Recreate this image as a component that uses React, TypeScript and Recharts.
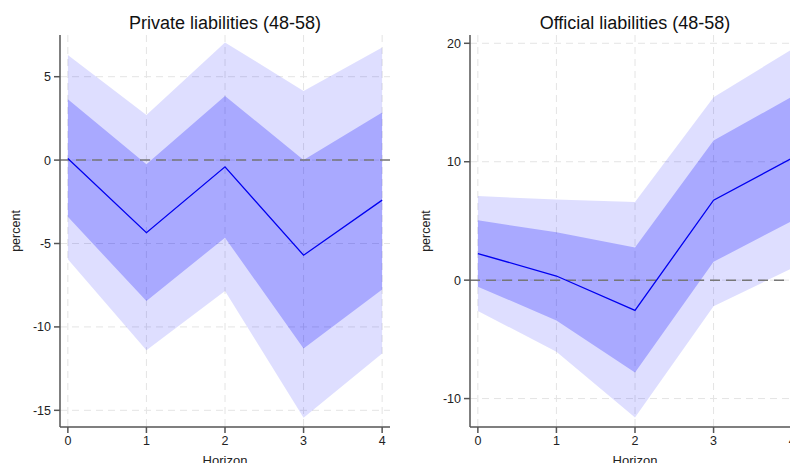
import React from "react";
import {
  ComposedChart,
  Area,
  Line,
  XAxis,
  YAxis,
  CartesianGrid,
  ReferenceLine,
} from "recharts";

const horizons = [0, 1, 2, 3, 4];
const xTicks = [0, 1, 2, 3, 4];

const privMid = [0.1, -4.35, -0.4, -5.7, -2.4];
const privInnerLo = [-3.4, -8.45, -4.65, -11.3, -7.75];
const privInnerHi = [3.65, -0.25, 3.85, 0.0, 2.85];
const privOuterLo = [-5.95, -11.4, -7.85, -15.45, -11.6];
const privOuterHi = [6.3, 2.7, 7.05, 4.15, 6.75];
const privTicks = [-15, -10, -5, 0, 5];

const offMid = [2.25, 0.35, -2.55, 6.75, 10.3];
const offInnerLo = [-0.55, -3.4, -7.8, 1.55, 5.0];
const offInnerHi = [5.05, 4.05, 2.75, 11.8, 15.5];
const offOuterLo = [-2.6, -6.05, -11.6, -2.2, 1.0];
const offOuterHi = [7.1, 6.8, 6.6, 15.45, 19.5];
const offTicks = [-10, 0, 10, 20];

const FONT = "'Liberation Sans', Arial, sans-serif";

function build(mid: number[], il: number[], ih: number[], ol: number[], oh: number[]) {
  return horizons.map((h, i) => ({
    h,
    mid: mid[i],
    inner: [il[i], ih[i]],
    outer: [ol[i], oh[i]],
  }));
}

type PanelProps = {
  title: string;
  left: number;
  yWidth: number;
  data: any[];
  domain: [number, number];
  ticks: number[];
  rightMargin: number;
};

function Panel({ title, left, yWidth, data, domain, ticks, rightMargin }: PanelProps) {
  const plotLeft = yWidth;
  const plotRight = 400 - rightMargin;
  const center = (plotLeft + plotRight) / 2;
  return (
    <div style={{ position: "absolute", left, top: 0, width: 400, height: 463 }}>
      <div
        style={{
          position: "absolute",
          left: center - 200,
          width: 400,
          top: 12,
          textAlign: "center",
          fontSize: 18,
          fontFamily: FONT,
          color: "#111",
          lineHeight: "22px",
        }}
      >
        {title}
      </div>
      <ComposedChart
        width={400}
        height={463}
        data={data}
        margin={{ top: 35, right: rightMargin, bottom: 0, left: 0 }}
        style={{ fontFamily: FONT }}
      >
        <CartesianGrid
          stroke="#e4e4e4"
          strokeDasharray="7 5"
          strokeWidth={1}
          horizontalValues={ticks}
          verticalValues={xTicks}
        />
        <XAxis
          dataKey="h"
          type="number"
          domain={[-0.1, 4.1]}
          ticks={xTicks}
          allowDataOverflow
          height={36}
          tickSize={6}
          tickMargin={3}
          stroke="#555"
          strokeWidth={1.5}
          tick={{ fill: "#222", fontSize: 12.5 }}
          label={(props: any) => {
            const vb = props.viewBox || {};
            const cx = (vb.x ?? plotLeft) + (vb.width ?? plotRight - plotLeft) / 2;
            const by = (vb.y ?? 427) + 38;
            return (
              <text
                x={cx}
                y={by}
                textAnchor="middle"
                fontSize={13}
                fill="#222"
                fontFamily={FONT}
              >
                Horizon
              </text>
            );
          }}
        />
        <YAxis
          type="number"
          domain={domain}
          ticks={ticks}
          allowDataOverflow
          width={yWidth}
          tickSize={6}
          tickMargin={3}
          stroke="#555"
          strokeWidth={1.5}
          tick={{ fill: "#222", fontSize: 12.5 }}
          label={(props: any) => {
            const vb = props.viewBox || {};
            const cx = (vb.x ?? 0) + (vb.width ?? yWidth) - 44;
            const cy = (vb.y ?? 35) + (vb.height ?? 392) / 2;
            return (
              <text
                x={cx}
                y={cy}
                transform={`rotate(-90 ${cx} ${cy})`}
                textAnchor="middle"
                dominantBaseline="central"
                fontSize={12.5}
                fill="#222"
                fontFamily={FONT}
              >
                percent
              </text>
            );
          }}
        />
        <Area
          dataKey="outer"
          type="linear"
          stroke="none"
          fill="#0000ff"
          fillOpacity={0.13}
          isAnimationActive={false}
        />
        <Area
          dataKey="inner"
          type="linear"
          stroke="none"
          fill="#0000ff"
          fillOpacity={0.24}
          isAnimationActive={false}
        />
        <ReferenceLine y={0} stroke="#777" strokeWidth={1.5} strokeDasharray="10 6" />
        <Line
          dataKey="mid"
          type="linear"
          stroke="#0000f0"
          strokeWidth={1.3}
          dot={false}
          isAnimationActive={false}
        />
      </ComposedChart>
    </div>
  );
}

export default function App() {
  const privData = build(privMid, privInnerLo, privInnerHi, privOuterLo, privOuterHi);
  const offData = build(offMid, offInnerLo, offInnerHi, offOuterLo, offOuterHi);
  return (
    <div
      style={{
        position: "absolute",
        left: 0,
        top: 0,
        width: 790,
        height: 463,
        overflow: "hidden",
        background: "#fff",
        fontFamily: FONT,
      }}
    >
      <Panel
        title="Private liabilities (48-58)"
        left={0}
        yWidth={60}
        data={privData}
        domain={[-16, 7.5]}
        ticks={privTicks}
        rightMargin={10}
      />
      <Panel
        title="Official liabilities (48-58)"
        left={400}
        yWidth={70}
        data={offData}
        domain={[-12.4, 20.7]}
        ticks={offTicks}
        rightMargin={0}
      />
    </div>
  );
}
